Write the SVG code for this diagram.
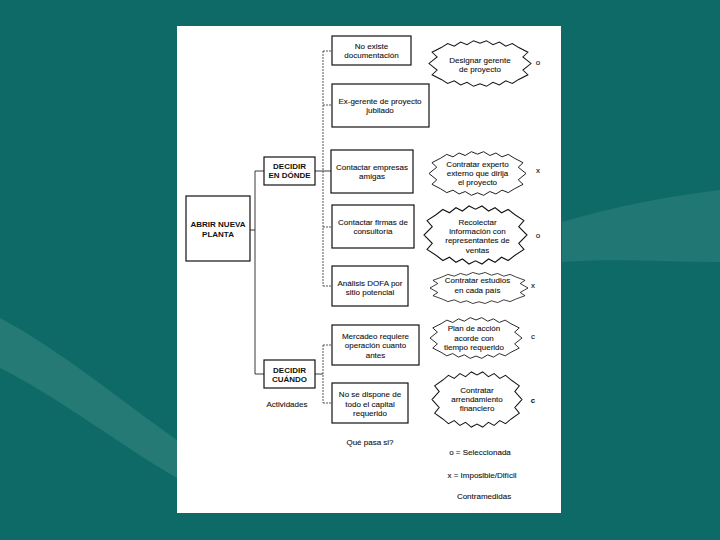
<svg xmlns="http://www.w3.org/2000/svg" xmlns:xlink="http://www.w3.org/1999/xlink" width="720" height="540" viewBox="0 0 720 540">
<style>
  .box{fill:#fff;stroke:#111;stroke-width:1.2}
  .cloud{fill:#fff;stroke:#111;stroke-width:1;vector-effect:non-scaling-stroke;stroke-linejoin:miter}
  .t{font-family:"Liberation Sans",Arial,sans-serif;font-size:8px;fill:#111;stroke:#111;stroke-width:0.1;text-anchor:middle}
  .b{font-weight:bold;stroke-width:0}
  .ln{fill:none;stroke:#222;stroke-width:0.9}
  .dl{fill:none;stroke:#444;stroke-width:0.9;stroke-dasharray:2 1}
</style>
<defs>
  <path id="cloudShape" d="M12,8 L18.3,3.75 24.7,6.5 31,2.25 37.3,5 43.7,0.75 50,3.5 56.3,0.75 62.7,5 69,2.25 75.3,6.5 81.7,3.75 88,8 97,13 92,18 100,25 92,32 97,37 88,42 81.7,46.25 75.3,43.5 69,47.75 62.7,45 56.3,49.25 50,46.5 43.7,49.25 37.3,45 31,47.75 24.7,43.5 18.3,46.25 12,42 3,37 8,32 0,25 8,18 3,13 Z"/>
</defs>
<!-- background -->
<rect x="0" y="0" width="720" height="540" fill="#0e6a66"/>
<path d="M0,318 C60,350 120,400 177,440 L177,478 C120,445 55,395 0,368 Z" fill="#2f817c" opacity="0.7"/>
<path d="M562,222 C620,205 670,196 720,190 L720,262 C670,262 615,258 562,262 Z" fill="#2f817c" opacity="0.6"/>
<!-- page -->
<rect x="177" y="26" width="384" height="487" fill="#fff"/>

<g id="connectors">
  <path class="ln" d="M250,230 H255 M255,171 V374 M255,171 H264 M255,374 H264 M315,171 H331 M315,374 H323"/>
  <path class="dl" d="M323,51 V286 M323,51 H332 M323,105 H332 M323,227 H332 M323,286 H332 M323,345 V403 M323,345 H332 M323,403 H332"/>
</g>

<g id="abrir">
  <rect class="box" x="186" y="196" width="64" height="65"/>
  <text class="t b" x="218" y="226.5">ABRIR NUEVA</text>
  <text class="t b" x="218" y="236.5">PLANTA</text>
</g>
<g id="decidir-donde">
  <rect class="box" x="264" y="157" width="51" height="28"/>
  <text class="t b" x="289.5" y="169">DECIDIR</text>
  <text class="t b" x="289.5" y="178">EN DÓNDE</text>
</g>
<g id="decidir-cuando">
  <rect class="box" x="264" y="360" width="51" height="28"/>
  <text class="t b" x="289.5" y="372.5">DECIDIR</text>
  <text class="t b" x="289.5" y="381.5">CUÁNDO</text>
</g>

<g id="no-existe">
  <rect class="box" x="332" y="36" width="79" height="29"/>
  <text class="t" x="371.5" y="48.5">No existe</text>
  <text class="t" x="371.5" y="58">documentación</text>
</g>
<g id="ex-gerente">
  <rect class="box" x="332" y="84" width="97" height="43"/>
  <text class="t" x="380" y="103.5">Ex-gerente de proyecto</text>
  <text class="t" x="380" y="112.5">jubilado</text>
</g>
<g id="contactar-empresas">
  <rect class="box" x="331" y="150" width="82" height="43"/>
  <text class="t" x="372" y="170">Contactar empresas</text>
  <text class="t" x="372" y="179">amigas</text>
</g>
<g id="contactar-firmas">
  <rect class="box" x="332" y="205" width="82" height="43"/>
  <text class="t" x="373" y="225">Contactar firmas de</text>
  <text class="t" x="373" y="234">consultoría</text>
</g>
<g id="analisis">
  <rect class="box" x="332" y="266" width="76" height="40"/>
  <text class="t" x="370" y="285.5">Análisis DOFA por</text>
  <text class="t" x="370" y="295">sitio potencial</text>
</g>
<g id="mercadeo">
  <rect class="box" x="332" y="325" width="87" height="40"/>
  <text class="t" x="375.5" y="338.5">Mercadeo requiere</text>
  <text class="t" x="375.5" y="348">operación cuanto</text>
  <text class="t" x="375.5" y="357.5">antes</text>
</g>
<g id="no-capital">
  <rect class="box" x="332" y="383" width="76" height="40"/>
  <text class="t" x="370" y="397">No se dispone de</text>
  <text class="t" x="370" y="406.5">todo el capital</text>
  <text class="t" x="370" y="416">requerido</text>
</g>

<g id="cloud-designar">
  <use xlink:href="#cloudShape" class="cloud" transform="translate(429,40) scale(1.02,0.94)"/>
  <text class="t" x="480" y="62.5">Designar gerente</text>
  <text class="t" x="480" y="72">de proyecto</text>
  <text class="t" x="538" y="64.5">o</text>
</g>
<g id="cloud-experto">
  <use xlink:href="#cloudShape" class="cloud" transform="translate(429,151) scale(0.97,0.9)"/>
  <text class="t" x="477.5" y="166.5">Contratar experto</text>
  <text class="t" x="477.5" y="176">externo que dirija</text>
  <text class="t" x="477.5" y="185">el proyecto</text>
  <text class="t" x="538" y="172.5">x</text>
</g>
<g id="cloud-recolectar">
  <use xlink:href="#cloudShape" class="cloud" transform="translate(424,205) scale(1.03,1.2)"/>
  <text class="t" x="477.5" y="224.5">Recolectar</text>
  <text class="t" x="477.5" y="233.5">información con</text>
  <text class="t" x="477.5" y="243">representantes de</text>
  <text class="t" x="477.5" y="252.5">ventas</text>
  <text class="t" x="538" y="237.5">o</text>
</g>
<g id="cloud-estudios">
  <use xlink:href="#cloudShape" class="cloud" transform="translate(430,272) scale(0.98,0.64)"/>
  <text class="t" x="477.5" y="283">Contratar estudios</text>
  <text class="t" x="477.5" y="292.5">en cada país</text>
  <text class="t" x="533" y="287.5">x</text>
</g>
<g id="cloud-plan">
  <use xlink:href="#cloudShape" class="cloud" transform="translate(430,317) scale(0.92,0.84)"/>
  <text class="t" x="474" y="331">Plan de acción</text>
  <text class="t" x="474" y="340.5">acorde con</text>
  <text class="t" x="474" y="350">tiempo requerido</text>
  <text class="t" x="533" y="338.5">c</text>
</g>
<g id="cloud-arrendamiento">
  <use xlink:href="#cloudShape" class="cloud" transform="translate(432,371) scale(0.9,1.14)"/>
  <text class="t" x="477" y="393">Contratar</text>
  <text class="t" x="477" y="402">arrendamiento</text>
  <text class="t" x="477" y="411">financiero</text>
  <text class="t b" x="533" y="402.5">c</text>
</g>

<g id="labels">
  <text class="t" x="287" y="407">Actividades</text>
  <text class="t" x="370" y="445">Qué pasa si?</text>
  <text class="t" x="480" y="455">o = Seleccionada</text>
  <text class="t" x="482" y="477.5">x = Imposible/Difícil</text>
  <text class="t" x="484" y="499">Contramedidas</text>
</g>
</svg>
